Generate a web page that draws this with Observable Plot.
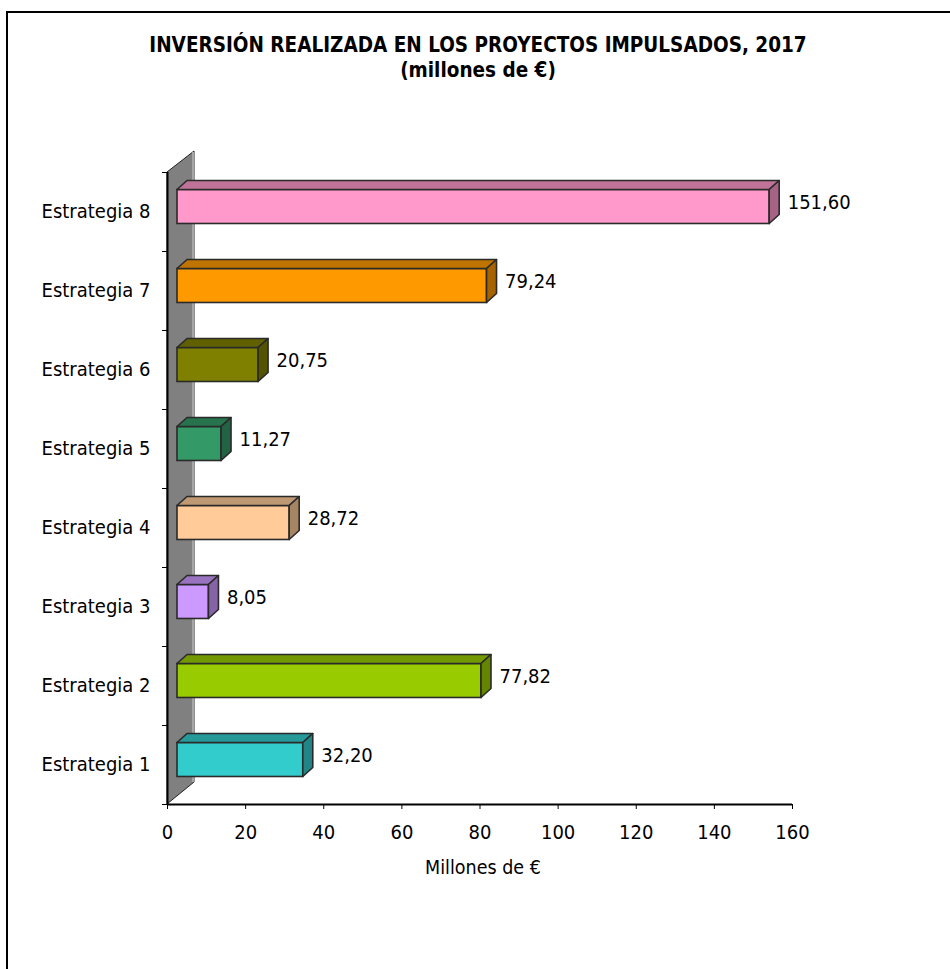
<!DOCTYPE html>
<html><head><meta charset="utf-8">
<script src="https://cdn.jsdelivr.net/npm/d3@7"></script>
<script src="https://cdn.jsdelivr.net/npm/@observablehq/plot@0.6"></script>
<style>
body{margin:0;background:#fff;overflow:hidden;width:950px;height:969px;position:relative;font-family:"DejaVu Sans Condensed","DejaVu Sans",sans-serif;}
#frame{position:absolute;left:6px;top:11px;width:1000px;height:1000px;border:2px solid #000;box-sizing:border-box;}
#title{position:absolute;left:0;top:33px;width:956px;text-align:center;font-weight:bold;font-size:20.5px;line-height:25px;color:#000;}
#chart{position:absolute;left:0;top:0;}
</style></head>
<body>
<div id="frame"></div>
<div id="chart"></div>
<div id="title">INVERSIÓN REALIZADA EN LOS PROYECTOS IMPULSADOS, 2017<br>(millones de €)</div>
<script>
const categories = ["Estrategia 1","Estrategia 2","Estrategia 3","Estrategia 4","Estrategia 5","Estrategia 6","Estrategia 7","Estrategia 8"];
const values = [32.20, 77.82, 8.05, 28.72, 11.27, 20.75, 79.24, 151.60];
const valueLabels = ["32,20","77,82","8,05","28,72","11,27","20,75","79,24","151,60"];
const colors = ["#33CCCC","#99CC00","#CC99FF","#FFCC99","#339966","#808000","#FF9900","#FF99CC"];
const xTicks = [0,20,40,60,80,100,120,140,160];
const xLabel = "Millones de €";

const data = categories.map((c,i)=>({cat:c, i, value:values[i], label:valueLabels[i], color:colors[i]}));
const boundaries = d3.range(0, categories.length + 1);
const FONT = '"DejaVu Sans Condensed","DejaVu Sans",sans-serif';
const HALF = 0.215;      // half bar thickness in band units
const FX = 10, FY = -5;  // front face offset (px)
const DX = 10, DY = -9;  // bar depth (px)

function shade(c, k){ const r = d3.rgb(c); return d3.rgb(r.r*k, r.g*k, r.b*k).formatHex(); }

function wall(index, scales){
  const {x, y} = scales;
  const x0 = x(0), yb = y(0), yt = y(categories.length);
  const g = d3.create("svg:g");
  g.append("path").attr("d", `M${x0},${yb}L${x0},${yt}L${x0+27},${yt-21}L${x0+27},${yb-22}Z`)
    .attr("fill", "#808080").attr("stroke", "#222").attr("stroke-width", 1);
  g.append("line").attr("x1", x0+26).attr("x2", x0+26).attr("y1", yt-20).attr("y2", yb-22)
    .attr("stroke", "#a6a6a6").attr("stroke-width", 2);
  return g.node();
}

function depthFaces(index, scales){
  const {x, y} = scales;
  const g = d3.create("svg:g").attr("stroke", "#2a2a2a").attr("stroke-width", 1.6).attr("stroke-linejoin", "round");
  for (const d of data){
    const xl = x(0) + FX, xr = x(d.value) + FX;
    const yt = y(d.i + 0.5 + HALF) + FY, yb = y(d.i + 0.5 - HALF) + FY;
    g.append("path").attr("d", `M${xl},${yt}L${xl+DX},${yt+DY}L${xr+DX},${yt+DY}L${xr},${yt}Z`).attr("fill", shade(d.color, 0.75));
    g.append("path").attr("d", `M${xr},${yt}L${xr+DX},${yt+DY}L${xr+DX},${yb+DY}L${xr},${yb}Z`).attr("fill", shade(d.color, 0.65));
  }
  return g.node();
}

const chart = Plot.plot({
  width: 950, height: 969,
  marginLeft: 167, marginRight: 158, marginTop: 172, marginBottom: 165,
  style: {fontFamily: FONT, fontSize: "20px", color: "#000", background: "transparent"},
  x: {domain: [0, 160], ticks: xTicks},
  y: {domain: [0, categories.length]},
  marks: [
    wall,
    Plot.rect(data, {x1: 0, x2: "value", y1: d => d.i + 0.5 - HALF, y2: d => d.i + 0.5 + HALF, fill: "color", stroke: "#2a2a2a", strokeWidth: 1.6, dx: FX, dy: FY}),
    depthFaces,
    Plot.ruleX([0], {y1: 0, y2: categories.length, stroke: "#000", strokeWidth: 2}),
    Plot.ruleY([0], {x1: 0, x2: 160, stroke: "#000", strokeWidth: 2}),
    Plot.axisX({ticks: xTicks, tickSize: 5, tickPadding: 15, fontSize: 20, label: null, stroke: "#000"}),
    Plot.axisY({ticks: boundaries, tickSize: 5, tickFormat: () => "", label: null, stroke: "#000"}),
    Plot.text(data, {x: 0, y: d => d.i + 0.5, text: "cat", textAnchor: "end", dx: -17, fontSize: 20, fill: "#000"}),
    Plot.text(data, {x: "value", y: d => d.i + 0.5, text: "label", textAnchor: "start", dx: 28, dy: -9, fontSize: 20, fill: "#000"}),
    Plot.text([xLabel], {frameAnchor: "bottom", dx: 3, dy: 69, fontSize: 19.5, fill: "#000"})
  ]
});
document.getElementById("chart").appendChild(chart);
</script>
</body></html>
